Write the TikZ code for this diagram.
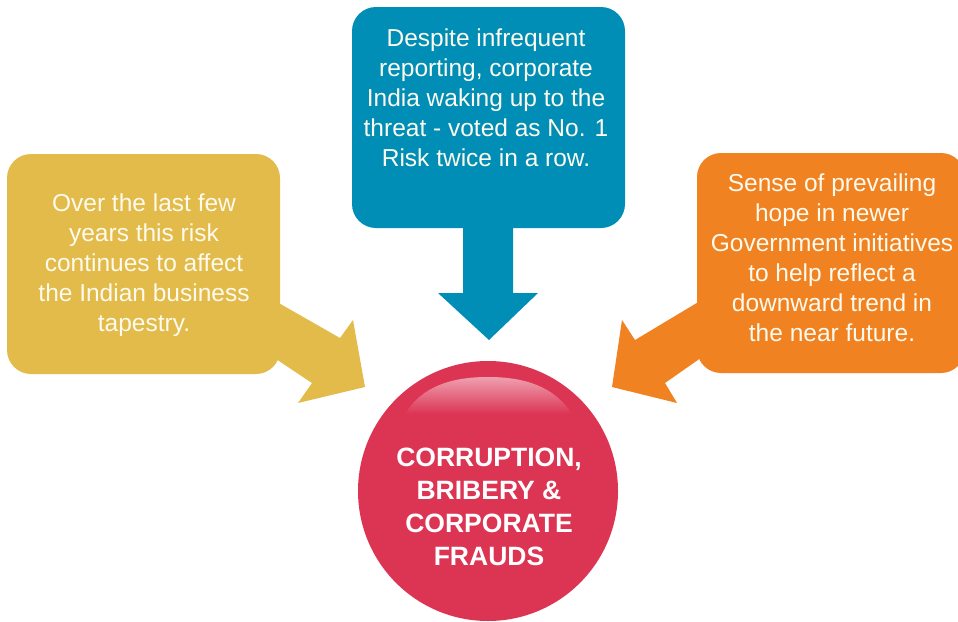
\documentclass[tikz,border=0pt]{standalone}
\usepackage{fontspec}
\setmainfont{Liberation Sans}
\definecolor{cyellow}{RGB}{227,187,74}
\definecolor{cblue}{RGB}{0,142,183}
\definecolor{corange}{RGB}{240,130,34}
\definecolor{cred}{RGB}{220,52,83}
\definecolor{cgloss}{RGB}{238,160,175}
\definecolor{ctext}{RGB}{253,250,238}
\tikzset{
  box/.style={rectangle, rounded corners=24pt, inner sep=0pt},
  boxtext/.style={align=center, text=ctext, inner sep=0pt,
    font=\fontsize{24.5}{30}\selectfont},
  blockarrow/.style={draw=none},
}
\begin{document}
\begin{tikzpicture}[x=1pt,y=-1pt]
\useasboundingbox (0,0) rectangle (958,621);
\clip (0,0) rectangle (958,621);
% boxes
\node[box, fill=cyellow, minimum width=273pt, minimum height=220pt] (yellow) at (143.5,264) {};
\node[box, fill=cblue, minimum width=273pt, minimum height=221pt] (blue) at (488.5,117.5) {};
\node[box, fill=corange, minimum width=268pt, minimum height=220pt] (orange) at (831,263) {};
% circle
\node[circle, fill=cred, minimum size=260pt, inner sep=0pt] (centre) at (488,491) {};
% block arrows
\fill[cyellow] (270,298) -- (340,338) -- (353,320) -- (365,387) -- (298,403) -- (312,383) -- (270,355) -- cycle;
\fill[cblue] (463,220) -- (463,293) -- (438,293) -- (489,340) -- (538,293) -- (513,293) -- (513,220) -- cycle;
\fill[corange] (705,298) -- (635,340) -- (622,320) -- (612,387) -- (677,403) -- (665,383) -- (705,355) -- cycle;
% gloss
\begin{scope}
\clip (centre) circle (130pt);
\shade[top color=cgloss, bottom color=cred]
  (405,414) .. controls (422,386) and (452,377) .. (488,377) .. controls (524,377) and (554,386) .. (572,414) -- cycle;
\end{scope}
% texts
\node[boxtext] (yt) at (144,265) {Over the last few\\years this risk\\continues to affect\\the Indian business\\tapestry.};
\node[boxtext] (bt) at (486,98) {Despite infrequent\\reporting, corporate\\India waking up to the\\threat - voted as No. 1\\Risk twice in a row.};
\node[boxtext] (ot) at (832,258) {Sense of prevailing\\hope in newer\\Government initiatives\\to help reflect a\\downward trend in\\the near future.};
\node[align=center, text=white, inner sep=0pt, font=\fontsize{26.5}{33}\selectfont\bfseries] (ct) at (489,507) {CORRUPTION,\\BRIBERY \&\\CORPORATE\\FRAUDS};
\end{tikzpicture}
\end{document}
